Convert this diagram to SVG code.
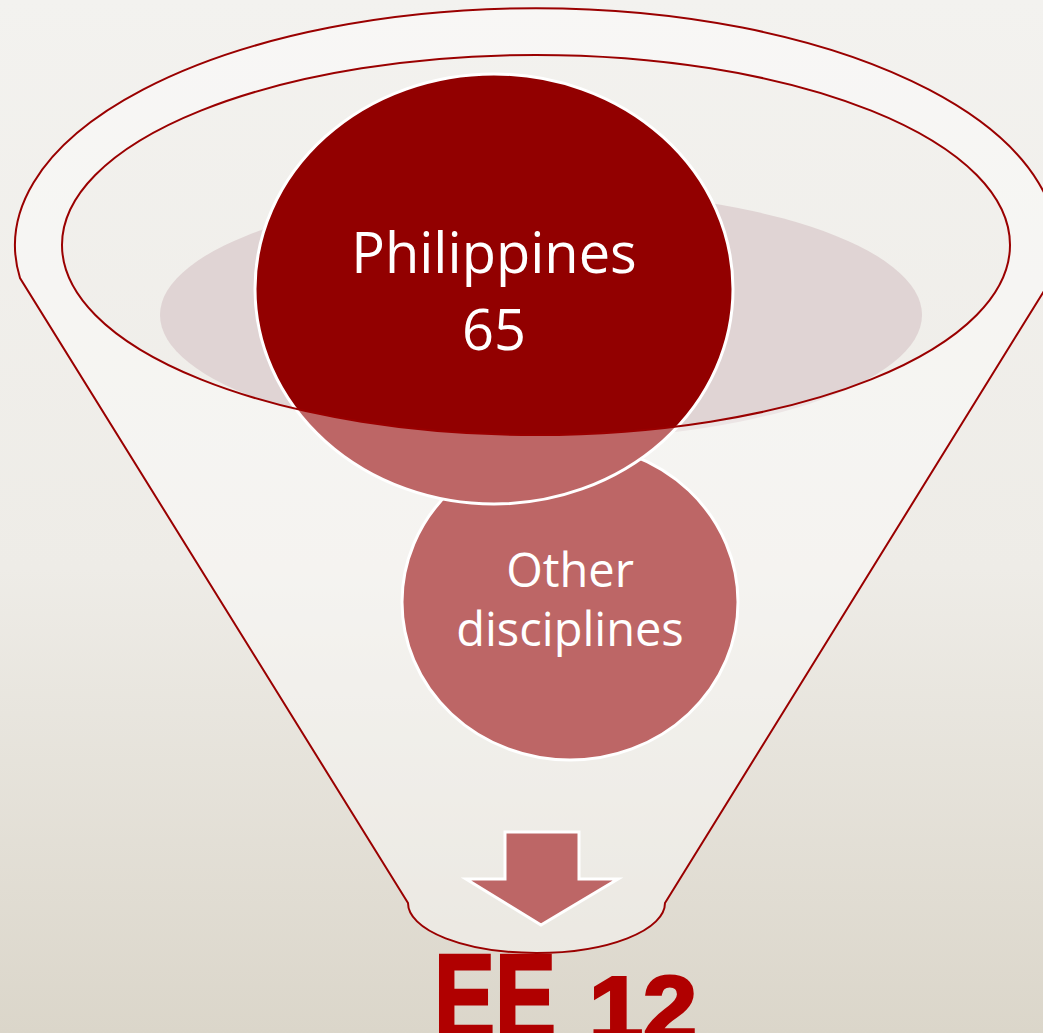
<svg xmlns="http://www.w3.org/2000/svg" width="1043" height="1033" viewBox="0 0 1043 1033">
<defs>
<linearGradient id="bg" x1="0" y1="0" x2="0" y2="1">
<stop offset="0" stop-color="#f3f2ef"/>
<stop offset="0.55" stop-color="#eeece7"/>
<stop offset="1" stop-color="#dbd6ca"/>
</linearGradient>
<style>
.lbl{font-family:"Open Sans","Noto Sans",sans-serif;fill:#ffffff;text-anchor:middle}
.circ{stroke:#ffffff;stroke-width:3}
.funnel{fill:#ffffff;fill-opacity:0.4;stroke:#9a0000;stroke-width:2;fill-rule:evenodd}
</style>
</defs>
<rect width="1043" height="1033" fill="url(#bg)"/>
<g id="shade"><ellipse cx="541" cy="315" rx="381" ry="125" fill="#e0d4d4"/></g>
<g id="node-other">
<ellipse class="circ" cx="570" cy="602" rx="168" ry="158" fill="#920000"/>
</g>
<g id="node-philippines">
<ellipse class="circ" cx="494" cy="289" rx="239" ry="215" fill="#920000"/>
<text class="lbl" x="494" y="273" font-size="56">Philippines</text>
<text class="lbl" x="494" y="350" font-size="56">65</text>
</g>
<g id="connectors">
<path d="M505,832 L579,832 L579,879 L618,879 L541,925 L466,879 L505,879 Z" fill="#920000" stroke="#ffffff" stroke-width="3"/>
</g>
<g id="funnel">
<path class="funnel" d="M20,278 A521,237 0 1 1 1052,278 L665,903 A128.5,50 0 0 1 408,903 Z M62,245 A474,190 0 1 0 1010,245 A474,190 0 1 0 62,245 Z"/>
</g>
<g id="other-label">
<text class="lbl" x="570" y="587" font-size="47">Other</text>
<text class="lbl" x="570" y="646" font-size="47">disciplines</text>
</g>
<g id="result">
<text font-family="'Liberation Sans',Arial,sans-serif" font-weight="bold" fill="#b00000" stroke="#b00000" stroke-width="3" y="1040"><tspan x="434" font-size="122" textLength="122" lengthAdjust="spacingAndGlyphs">EE</tspan><tspan x="589" font-size="90" textLength="108" lengthAdjust="spacingAndGlyphs">12</tspan></text>
</g>
</svg>
